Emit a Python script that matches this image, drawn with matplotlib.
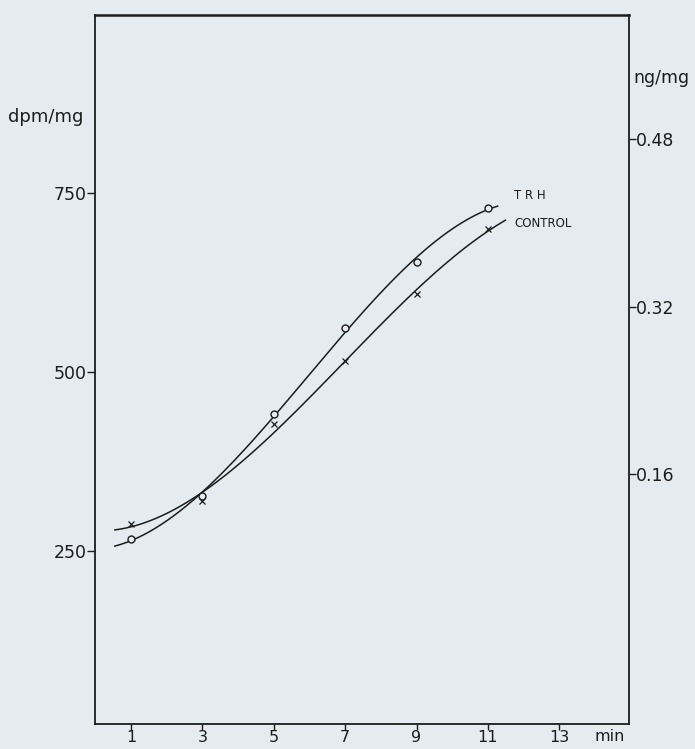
import numpy as np
import matplotlib
matplotlib.use('Agg')
import matplotlib.pyplot as plt
import matplotlib.transforms as mtransforms

# Values (minutes vs dpm/mg)
minutes = [1, 3, 5, 7, 9, 11]
trh_dpm = [267, 327, 441, 561, 653, 729]
control_dpm = [288, 320, 428, 515, 609, 699]

# extent of the drawn smooth curves
trh_span = (0.55, 11.27)
control_span = (0.55, 11.49)

x_ticks = [1, 3, 5, 7, 9, 11, 13]
left_ticks = [250, 500, 750]
right_ticks = [0.16, 0.32, 0.48]

BG = '#e5ebef'
INK = '#1c1c1c'

plt.rcParams['font.family'] = ['DejaVu Sans']

fig = plt.figure(figsize=(6.95, 7.49), dpi=100, facecolor=BG)
ax = fig.add_axes([0.137, 0.033, 0.768, 0.947])
ax.set_facecolor(BG)


def smooth_curve(x, y, span):
    # least-squares cubic, like the hand-fitted curves of the original
    coef = np.polyfit(x, y, 3)
    xs = np.linspace(span[0], span[1], 200)
    return xs, np.polyval(coef, xs)


xs, ys = smooth_curve(minutes, trh_dpm, trh_span)
ax.plot(xs, ys, color=INK, lw=1.1)
xs, ys = smooth_curve(minutes, control_dpm, control_span)
ax.plot(xs, ys, color=INK, lw=1.1)

ax.plot(minutes, trh_dpm, ls='none', marker='o', ms=5, mfc=BG, mec=INK, mew=1.0)
ax.plot(minutes, control_dpm, ls='none', marker='x', ms=5, mec=INK, mew=0.9)

ax.text(11.74, 746, 'T R H', fontsize=8.5, color=INK, va='center', ha='left')
ax.text(11.74, 707, 'CONTROL', fontsize=8.5, color=INK, va='center', ha='left')

ax.set_xlim(0, 14.95)
ax.set_ylim(9, 998)
ax.set_xticks(x_ticks)
ax.set_xticklabels([str(t) for t in x_ticks])
ax.set_yticks(left_ticks)
ax.set_yticklabels([str(t) for t in left_ticks])
ax.tick_params(axis='x', direction='out', length=4, width=1.0, pad=0,
               labelsize=11.5, colors=INK)
ax.tick_params(axis='y', direction='out', length=6, width=1.0, pad=0,
               labelsize=12.5, colors=INK)

for side, sp in ax.spines.items():
    sp.set_color(INK)
    sp.set_linewidth(1.3)
ax.spines['top'].set_linewidth(1.8)

ax2 = ax.twinx()
ax2.set_ylim(-0.079, 0.599)
ax2.set_yticks(right_ticks)
ax2.set_yticklabels(['%.2f' % t for t in right_ticks])
ax2.tick_params(axis='y', direction='out', length=5, width=1.0, pad=0,
                labelsize=12.5, colors=INK)
for sp in ax2.spines.values():
    sp.set_visible(False)

ax.text(-0.163, 0.856, 'dpm/mg', transform=ax.transAxes, fontsize=13,
        color=INK, ha='left', va='center')
ax.text(1.009, 0.911, 'ng/mg', transform=ax.transAxes, fontsize=12.5,
        color=INK, ha='left', va='center')
trans = mtransforms.blended_transform_factory(ax.transData, ax.transAxes)
ax.text(14.4, -0.0065, 'min', transform=trans, fontsize=11.5, color=INK,
        ha='center', va='top')

fig.savefig('out.png', dpi=100, facecolor=BG)
